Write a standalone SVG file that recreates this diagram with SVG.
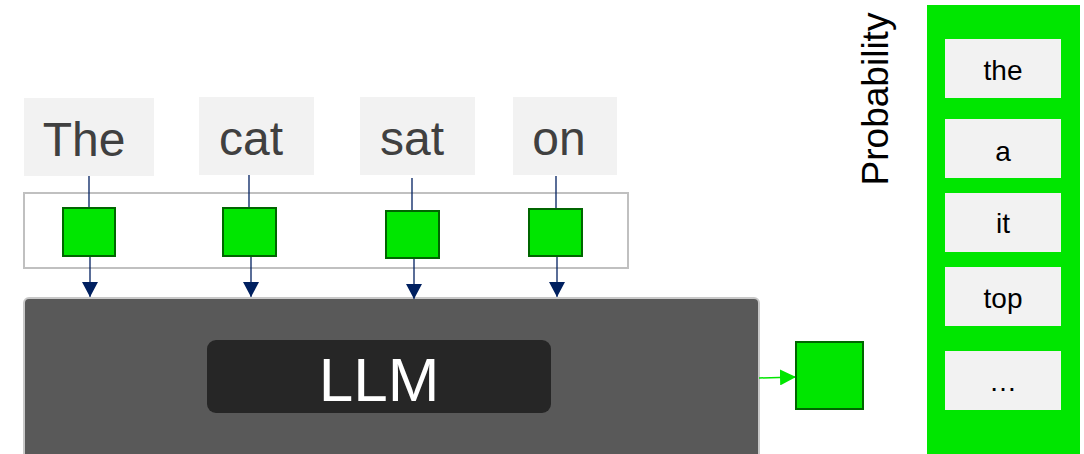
<svg xmlns="http://www.w3.org/2000/svg" width="1084" height="454" viewBox="0 0 1084 454">
<style>
.tok{fill:#f2f2f2}
.tt{font-family:"Liberation Sans",Arial,sans-serif;font-size:48px;fill:#404040;text-anchor:middle}
.emb{fill:#00e600;stroke:#006600;stroke-width:2}
.ln{stroke:#002060;stroke-width:1.3;fill:none}
.pi{fill:#f2f2f2}
.pt{font-family:"Liberation Sans",Arial,sans-serif;font-size:28px;fill:#000;text-anchor:middle}
</style>
<defs>
<marker id="ah" markerWidth="14" markerHeight="16" refX="15" refY="8" orient="auto" markerUnits="userSpaceOnUse">
<path d="M0,0 L15,8 L0,16 Z" fill="#002060"/>
</marker>
<marker id="ag" markerWidth="16" markerHeight="16" refX="16" refY="8" orient="auto" markerUnits="userSpaceOnUse">
<path d="M0,0 L16,8 L0,16 Z" fill="#00e600"/>
</marker>
</defs>
<rect x="0" y="0" width="1084" height="454" fill="#fff"/>
<g id="tokens">
<g id="tok-the"><rect class="tok" x="24" y="98" width="130" height="78"/><text class="tt" x="84" y="156">The</text></g>
<g id="tok-cat"><rect class="tok" x="199" y="97" width="115" height="78"/><text class="tt" x="251" y="155">cat</text></g>
<g id="tok-sat"><rect class="tok" x="360" y="97" width="115" height="78"/><text class="tt" x="412" y="155">sat</text></g>
<g id="tok-on"><rect class="tok" x="513" y="97" width="104" height="78"/><text class="tt" x="559" y="155">on</text></g>
</g>
<g id="embedding-layer"><rect x="24" y="193" width="604" height="75" fill="#fff" stroke="#c0c0c0" stroke-width="2"/></g>
<g id="llm">
<rect x="24" y="298" width="735" height="170" rx="5" fill="#595959" stroke="#c8c8c8" stroke-width="2"/>
<rect x="207" y="340" width="344" height="73" rx="9" fill="#262626"/>
<text x="379" y="401" font-family="'Liberation Sans',Arial,sans-serif" font-size="62" fill="#fff" text-anchor="middle">LLM</text>
</g>
<g id="connectors">
<line class="ln" x1="89" y1="176" x2="89" y2="208"/>
<line class="ln" x1="249" y1="175" x2="249" y2="208"/>
<line class="ln" x1="412" y1="178" x2="412" y2="211"/>
<line class="ln" x1="556" y1="176" x2="556" y2="209"/>
<line class="ln" x1="90" y1="256" x2="90" y2="297" marker-end="url(#ah)"/>
<line class="ln" x1="251" y1="256" x2="251" y2="297" marker-end="url(#ah)"/>
<line class="ln" x1="414" y1="258" x2="414" y2="299" marker-end="url(#ah)"/>
<line class="ln" x1="557" y1="256" x2="557" y2="297" marker-end="url(#ah)"/>
<line x1="759" y1="378" x2="796" y2="377" stroke="#00e600" stroke-width="1.5" marker-end="url(#ag)"/>
</g>
<g id="embeddings">
<rect id="emb1" class="emb" x="63" y="208" width="52" height="48"/>
<rect id="emb2" class="emb" x="223" y="208" width="53" height="48"/>
<rect id="emb3" class="emb" x="386" y="211" width="53" height="47"/>
<rect id="emb4" class="emb" x="529" y="209" width="53" height="47"/>
</g>
<g id="output-embedding"><rect class="emb" x="796" y="342" width="67" height="67"/></g>
<g id="probability-label"><text transform="translate(888,99) rotate(-90)" font-family="'Liberation Sans',Arial,sans-serif" font-size="37" fill="#000" text-anchor="middle">Probability</text></g>
<g id="probability">
<rect x="927" y="5" width="153" height="449" fill="#00e600"/>
<g id="p-the"><rect class="pi" x="945" y="39" width="116" height="59"/><text class="pt" x="1003" y="80">the</text></g>
<g id="p-a"><rect class="pi" x="945" y="119" width="116" height="59"/><text class="pt" x="1003" y="161">a</text></g>
<g id="p-it"><rect class="pi" x="945" y="193" width="116" height="59"/><text class="pt" x="1003" y="233">it</text></g>
<g id="p-top"><rect class="pi" x="945" y="267" width="116" height="59"/><text class="pt" x="1003" y="308">top</text></g>
<g id="p-more"><rect class="pi" x="945" y="351" width="116" height="59"/><text class="pt" x="1003" y="391">…</text></g>
</g>
</svg>
